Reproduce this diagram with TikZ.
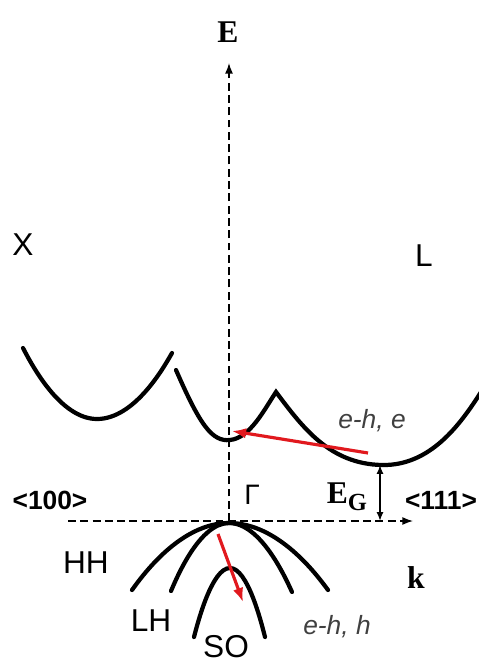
\documentclass[tikz,border=0pt]{standalone}
\usepackage{fontspec}
\setmainfont{Liberation Serif}
\setsansfont{Liberation Sans}
\usetikzlibrary{arrows.meta}
\definecolor{hopred}{RGB}{225,25,30}

\begin{document}
\begin{tikzpicture}[
  x=0.02cm, y=-0.02cm,
  band/.style={line width=2.4pt, line cap=round},
  axis/.style={line width=0.8pt, dash pattern=on 4.5pt off 2.5pt,
               -{Latex[length=6pt, width=4.5pt]}},
  hop/.style={line width=1.8pt, draw=hopred, -{Latex[length=8pt, width=6pt]}},
  gap/.style={line width=1pt, {Latex[length=5pt, width=4pt]}-{Latex[length=5pt, width=4pt]}},
  lbl/.style={font=\sffamily\fontsize{18}{20}\selectfont},
  sym/.style={font=\rmfamily\bfseries\fontsize{18}{20}\selectfont},
  dir/.style={font=\sffamily\bfseries\fontsize{15}{17}\selectfont},
  carrier/.style={font=\sffamily\itshape\fontsize{15}{17}\selectfont, text=black!75}
]
\useasboundingbox (0,0) rectangle (479,665);

% axes
\coordinate (gam) at (229,521);
\coordinate (etop) at (229,63);
\coordinate (kleft) at (68,521);
\coordinate (kright) at (413,521);
\draw[axis] (gam) -- (etop);
\draw[axis] (kleft) -- (kright);

% conduction band: X valley, then Gamma and L valleys
\draw[band] (23,348) parabola bend (97,419) (172,353);
\draw[band] (176,370) .. controls (200,425) and (212,442) .. (230,440)
  .. controls (250,438) and (264,410) .. (276,392)
  .. controls (303,428) and (330,464) .. (382,465)
  .. controls (430,466) and (460,425) .. (481,392);

% valence bands
\draw[band] (132,590) parabola bend (229,523) (328,590);
\draw[band] (171,591) parabola bend (229,523) (292,592);
\draw[band] (194,637) parabola bend (230,568) (265,637);

% red transitions
\coordinate (estart) at (368,453);
\coordinate (eend) at (232,431);
\draw[hop] (estart) -- (eend);
\coordinate (hstart) at (218,534);
\coordinate (hend) at (243,602);
\draw[hop] (hstart) -- (hend);

% band gap
\coordinate (lmin) at (380,465);
\coordinate (lk) at (380,521);
\draw[gap] (lmin) -- (lk);

% labels
\node[sym] (E) at (228,32) {E};
\node[lbl] (X) at (23,245) {X};
\node[lbl] (L) at (424,256) {L};
\node[dir] (d100) at (50,500) {<100>};
\node[dir, anchor=east, inner xsep=1pt] (d111) at (479,500) {<111>};
\node[font=\sffamily\fontsize{16}{18}\selectfont] (G) at (252,495) {Γ};
\node[sym] (EG) at (347,497) {E\raisebox{-0.45ex}{\fontsize{14}{15}\selectfont G}};
\node[carrier] (eh1) at (372,421) {e-h, e};
\node[lbl] (HH) at (86,563) {HH};
\node[lbl] (LH) at (151,621) {LH};
\node[lbl, anchor=south, inner sep=0pt] (SO) at (226,658) {SO};
\node[sym] (k) at (416,578) {k};
\node[carrier] (eh2) at (337,627) {e-h, h};
\end{tikzpicture}
\end{document}
